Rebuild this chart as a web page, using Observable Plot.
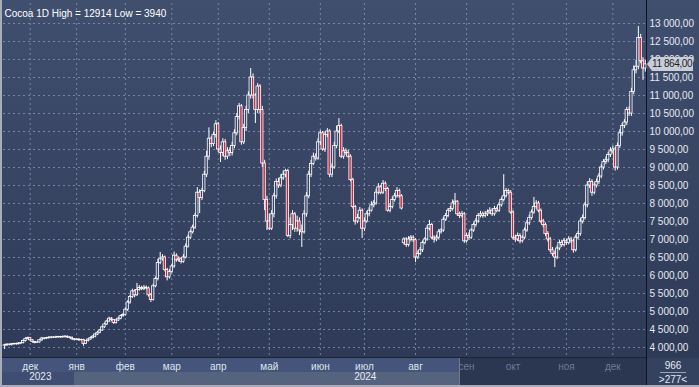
<!DOCTYPE html>
<html><head><meta charset="utf-8">
<script src="https://cdn.jsdelivr.net/npm/d3@7"></script>
<script src="https://cdn.jsdelivr.net/npm/@observablehq/plot@0.6"></script>
<style>
html,body{margin:0;padding:0;background:#fff;}
#wrap{position:relative;width:699px;height:387px;overflow:hidden;font-family:"Liberation Sans",Arial,sans-serif;background:linear-gradient(#414f6f,#2c3854);}
#wrap svg{position:absolute;left:0;top:0;z-index:2;}
.bg{position:absolute;z-index:1;}
.ov{position:absolute;z-index:3;}
</style></head><body><div id="wrap"></div>
<script>
const title = "Cocoa 1D High = 12914 Low = 3940";
const closes = [
4060,4080,4070,4090,4100,4090,4110,4120,4180,4240,
4260,4200,4150,4130,4140,4200,4250,4240,4260,4270,
4280,4270,4280,4290,4280,4290,4300,4280,4270,4230,
4210,4220,4200,4210,4100,4180,4220,4260,4300,4360,
4410,4470,4560,4640,4720,4800,4760,4680,4750,4800,
4870,4900,5050,5250,5400,5560,5450,5600,5650,5620,
5660,5640,5450,5320,5700,5900,6350,6450,6500,6150,
5950,6100,6250,6550,6420,6450,6380,6500,6800,7050,
7200,7330,7650,8300,8150,8350,8800,9300,9800,9650,
9900,10200,9500,9400,9700,9300,9450,9400,9600,9950,
10400,10700,9700,10100,10600,11000,11500,11000,10600,11250,
10600,9110,8100,7500,7300,7700,8200,8600,8500,8700,
8800,8900,7100,7400,7700,7300,7500,7250,7200,7700,
8200,8800,9100,9300,9250,9700,9950,9500,9900,10000,
8800,9000,9600,10000,10150,9300,9450,9400,9300,8650,
7900,7500,7600,7800,7300,7500,7700,7800,7950,8000,
8300,8450,8300,8550,8400,7800,7900,8100,8200,8350,
8200,7860,7000,6850,7000,7050,6980,6500,6600,6700,
6900,7000,7300,7400,7050,7000,7050,7200,7250,7550,
7650,7800,7850,8000,8050,7700,7650,7700,6950,7100,
7050,7250,7400,7500,7650,7700,7650,7700,7750,7800,
7700,7850,7800,7950,8100,8200,8350,8300,7750,7050,
7000,7100,6950,7050,7250,7450,7600,7750,7900,8000,
7800,7500,7400,7150,7000,6700,6600,6500,6750,6900,
6850,6950,6900,7000,6950,6700,7050,7150,7500,7600,
7950,8500,8600,8300,8500,8600,8750,9000,9150,9200,
9350,9450,9500,9000,9600,9950,10150,10250,10600,10500,
11100,11700,11800,12600,11950,11750,11864];
const opens = [
4050,4060,4080,4070,4090,4100,4090,4110,4120,4180,
4240,4260,4200,4150,4130,4140,4200,4250,4240,4260,
4270,4280,4270,4280,4290,4280,4290,4300,4280,4270,
4230,4210,4220,4200,4210,4100,4180,4220,4260,4300,
4360,4410,4470,4560,4640,4720,4800,4760,4680,4750,
4800,4870,4900,5050,5250,5400,5560,5450,5600,5650,
5620,5660,5640,5450,5320,5700,5900,6350,6450,6500,
6150,5950,6100,6250,6550,6420,6450,6380,6500,6800,
7050,7200,7330,7650,8300,8150,8350,8800,9300,9800,
9650,9900,10200,9500,9400,9700,9300,9450,9400,9600,
9950,10400,10700,9700,10100,10600,11000,11500,11000,10600,
11250,10600,9110,8100,7500,7300,7700,8200,8600,8500,
8700,8800,8900,7100,7400,7700,7300,7500,7250,7200,
7700,8200,8800,9100,9300,9250,9700,9950,9500,9900,
10000,8800,9000,9600,10000,10150,9300,9450,9400,9300,
8650,7900,7500,7600,7800,7300,7500,7700,7800,7950,
8000,8300,8450,8300,8550,8400,7800,7900,8100,8200,
8350,8200,6900,7000,6850,7000,7050,6980,6500,6600,
6700,6900,7000,7300,7400,7050,7000,7050,7200,7250,
7550,7650,7800,7850,8000,8050,7700,7650,7700,6950,
7100,7050,7250,7400,7500,7650,7700,7650,7700,7750,
7800,7700,7850,7800,7950,8100,8200,8350,8300,7750,
7050,7000,7100,6950,7050,7250,7450,7600,7750,7900,
8000,7800,7500,7400,7150,7000,6700,6600,6500,6750,
6900,6850,6950,6900,7000,6950,6700,7050,7150,7500,
7600,7950,8500,8600,8300,8500,8600,8750,9000,9150,
9200,9350,9450,9500,9000,9600,9950,10150,10250,10600,
10500,11100,11700,11800,12600,11950,11750];
const highs = [
4090,4100,4100,4110,4120,4120,4130,4140,4210,4270,
4290,4280,4220,4170,4170,4220,4280,4270,4280,4300,
4300,4300,4310,4310,4310,4320,4330,4320,4300,4290,
4250,4240,4240,4230,4230,4200,4250,4290,4330,4390,
4440,4500,4600,4680,4760,4840,4830,4780,4790,4840,
4900,4950,5100,5300,5450,5620,5600,5780,5720,5700,
5720,5710,5680,5500,5760,5960,6450,6640,6580,6540,
6200,6160,6300,6650,6600,6520,6500,6580,6880,7120,
7260,7400,7720,8440,8380,8420,8900,9450,10100,9850,
9980,10300,10250,9600,9800,9780,9550,9550,9700,10050,
10500,10780,10750,10200,10700,11100,11750,11600,11050,11330,
11300,10700,9200,8200,7700,7800,8280,8680,8700,8800,
8900,8950,8950,7600,7800,7750,7650,7600,7400,7800,
8300,8900,9200,9400,9380,9800,10030,10000,9980,10080,
10050,9100,9700,10150,10360,10200,9550,9520,9480,9350,
8700,7950,7700,7890,7850,7600,7780,7880,8050,8080,
8400,8550,8500,8640,8600,8450,8000,8180,8280,8440,
8400,8250,7050,7050,7080,7110,7100,7020,6680,6780,
6960,7050,7380,7530,7450,7100,7120,7280,7300,7620,
7720,7860,7920,8100,8280,8080,7760,7780,7750,7180,
7180,7300,7460,7580,7720,7780,7760,7780,7820,7880,
7860,7920,7900,8020,8160,8800,8420,8400,8360,7800,
7120,7180,7160,7110,7320,7530,7680,7820,8170,8080,
8060,7850,7560,7460,7220,7060,6780,6680,6820,6970,
6980,7030,7010,7080,7060,7000,7120,7220,7580,7680,
8030,8600,8690,8660,8580,8680,8830,9080,9220,9290,
9420,9550,9600,9560,9680,10050,10220,10330,10670,10680,
11200,11820,11970,12914,12700,12050,11980];
const lows = [
3940,4030,4040,4040,4060,4060,4070,4080,4100,4150,
4210,4170,4120,4100,4110,4120,4170,4210,4220,4230,
4240,4250,4250,4260,4250,4260,4260,4250,4240,4200,
4180,4190,4170,4180,4030,4080,4150,4200,4240,4270,
4330,4380,4450,4530,4610,4690,4720,4640,4650,4720,
4770,4840,4870,5000,5200,5360,5380,5420,5560,5580,
5580,5600,5400,5250,5290,5660,5850,6300,6400,6100,
5850,5900,6050,6200,6370,6370,6320,6340,6460,6760,
7000,7150,7280,7600,7720,8080,8300,8720,9200,9550,
9580,9820,9420,9140,9300,9200,9220,9300,9320,9520,
9880,10320,9620,9640,10000,10500,10900,10900,10220,10500,
10500,9000,7800,7250,7250,7250,7600,8120,8420,8440,
8640,8720,7050,7020,7250,7200,7200,7110,6780,7150,
7620,8130,8720,9050,9180,9200,9620,9450,9420,9830,
8720,8720,8950,9520,9940,9250,9230,9340,9250,8600,
7850,7400,7440,7550,7030,7220,7450,7630,7760,7880,
7950,8240,8240,8250,8330,7760,7740,7850,8040,8150,
8150,7820,6850,6780,6790,6930,6920,6360,6440,6550,
6640,6850,6950,7240,6990,6900,6940,7000,7150,7200,
7500,7600,7750,7790,7950,7640,7580,7600,6890,6900,
6980,7000,7200,7340,7450,7600,7590,7600,7640,7700,
7640,7650,7740,7750,7900,8040,8150,8240,7700,6990,
6920,6940,6880,6900,7000,7200,7390,7540,7700,7840,
7740,7440,7330,7090,6930,6640,6530,6220,6440,6690,
6780,6790,6840,6850,6890,6620,6650,6990,7090,7430,
7540,7880,8420,8200,8240,8430,8530,8690,8930,9080,
9130,9280,9380,8900,8930,9530,9870,10080,10170,10420,
10420,11020,11600,11720,11880,11420,11650];
const holidays = ["2023-11-23","2023-12-25","2024-01-01","2024-01-15","2024-02-19","2024-03-29","2024-05-27","2024-06-19","2024-07-04","2024-09-02","2024-11-28"];
const monthNames = ["янв","фев","мар","апр","май","июн","июл","авг","сен","окт","ноя","дек"];
const yearLabels = ["2023","2024"];
const yearLabelDates = ["2023-12-01","2024-06-25"];
const priceTicks = [4000,4500,5000,5500,6000,6500,7000,7500,8000,8500,9000,9500,10000,10500,11000,11500,12000,12500,13000];
const dimFrom = "2024-09-01";
const barCount = "966";
const visibleCount = ">277<";

// trading-day calendar for the band axis
const dates = [];
for (let d = new Date(Date.UTC(2023,10,15)); dates.length < closes.length; d.setUTCDate(d.getUTCDate()+1)) {
  const wd = d.getUTCDay(); const s = d.toISOString().slice(0,10);
  if (wd === 0 || wd === 6 || holidays.includes(s)) continue;
  dates.push(s);
}
const data = dates.map((d,i)=>({date:d,o:opens[i],h:highs[i],l:lows[i],c:closes[i]}));
const monthStarts = dates.filter((d,i)=> i>0 && d.slice(0,7)!==dates[i-1].slice(0,7));
const brightMonths = monthStarts.filter(d=>d<dimFrom);
const dimMonths = monthStarts.filter(d=>d>=dimFrom);
const years = yearLabels.map((t,i)=>({date:yearLabelDates[i],label:t}));

const loc = d3.formatLocale({decimal:",",thousands:"\u00a0",grouping:[3],currency:["",""]});
const fmt = loc.format(",.2f");
const RED = "#c22a44";
const BG = "#38466a";
const font = "Liberation Sans, Arial, sans-serif";

const chart = Plot.plot({
  width:699, height:387, marginLeft:3, marginRight:53, marginTop:3, marginBottom:29,
  style:{background:"transparent", fontFamily:font, fontSize:"10px", overflow:"visible"},
  x:{type:"band", domain:dates, padding:0, axis:null, label:null},
  y:{domain:[3694,13556], axis:null, label:null},
  marks:[
    Plot.gridY(priceTicks,{stroke:"#8a99b8",strokeOpacity:0.75,strokeDasharray:"2,3"}),
    Plot.gridX(monthStarts,{stroke:"#8a99b8",strokeOpacity:0.75,strokeDasharray:"2,3"}),
    Plot.ruleX(data,{x:"date",y1:"l",y2:"h",stroke:"#ffffff",strokeWidth:1}),
    Plot.barY(data,{x:"date",y1:"o",y2:"c",fill:d=>d.c<d.o?RED:BG,stroke:"#ffffff",strokeWidth:0.8}),
    Plot.axisY(priceTicks,{anchor:"right",label:null,tickSize:0,tickPadding:3,tickFormat:fmt,fill:"#e6eaf2",fontSize:"10px",style:{letterSpacing:"-0.4px"}}),
    Plot.axisX(brightMonths,{anchor:"bottom",label:null,tickSize:0,tickPadding:4,tickFormat:d=>monthNames[+d.slice(5,7)-1],fill:"#dfe4ec",fontSize:"10px"}),
    Plot.axisX(dimMonths,{anchor:"bottom",label:null,tickSize:0,tickPadding:4,tickFormat:d=>monthNames[+d.slice(5,7)-1],fill:"#6d7a96",fontSize:"10px"}),
    Plot.text(years,{x:"date",text:"label",frameAnchor:"bottom",dy:21,dx:-1,textAnchor:"start",fill:"#e6eaf2",fontSize:"10px"}),
    Plot.text([title],{frameAnchor:"top-left",dx:1,dy:6,text:d=>d,fill:"#ffffff",fontSize:"10px",textAnchor:"start",style:{letterSpacing:"-0.5px"}})
  ]
});

const wrap = document.getElementById("wrap");
function box(cls, css, html){const e=document.createElement("div");e.className=cls;e.style.cssText=css;if(html)e.innerHTML=html;wrap.appendChild(e);return e;}
// axis strip backgrounds
box("bg","left:0;top:358px;width:646px;height:14px;background:#45547a;");
box("bg","left:0;top:372px;width:74px;height:15px;background:#3f4d72;");
box("bg","left:74px;top:372px;width:386px;height:15px;background:#55637f;");
box("bg","left:460px;top:358px;width:186px;height:29px;background:#2b3650;");
box("bg","left:459px;top:358px;width:1px;height:29px;background:#6b7690;");
box("bg","left:646px;top:358px;width:53px;height:29px;background:#34415f;");
box("bg","left:0;top:357px;width:646px;height:1px;background:#1b2335;");
box("bg","left:646px;top:0;width:1px;height:387px;background:#0e1322;");
wrap.appendChild(chart);
// last price marker
const yLast = chart.scale("y").apply(closes[closes.length-1]);
box("ov",`left:647px;top:${yLast-7}px;width:46px;height:14px;background:#c9cdd6;clip-path:polygon(0 50%,5px 0,100% 0,100% 100%,5px 100%);font-size:10px;letter-spacing:-0.4px;line-height:14px;color:#1b1f29;padding-left:5px;box-sizing:border-box;`, fmt(closes[closes.length-1]));
// counters box
box("ov","left:647px;top:360px;width:52px;text-align:center;font-size:10px;color:#e6eaf2;line-height:11px;",barCount);
box("ov","left:660px;top:372px;width:26px;height:1px;background:#9aa4b8;");
box("ov","left:647px;top:374px;width:52px;text-align:center;font-size:10px;color:#e6eaf2;line-height:11px;",visibleCount);
// frame
box("ov","left:0;top:0;width:2px;height:387px;background:#a7aeba;");
box("ov","left:0;top:385px;width:699px;height:2px;background:#a7aeba;");
</script></body></html>
